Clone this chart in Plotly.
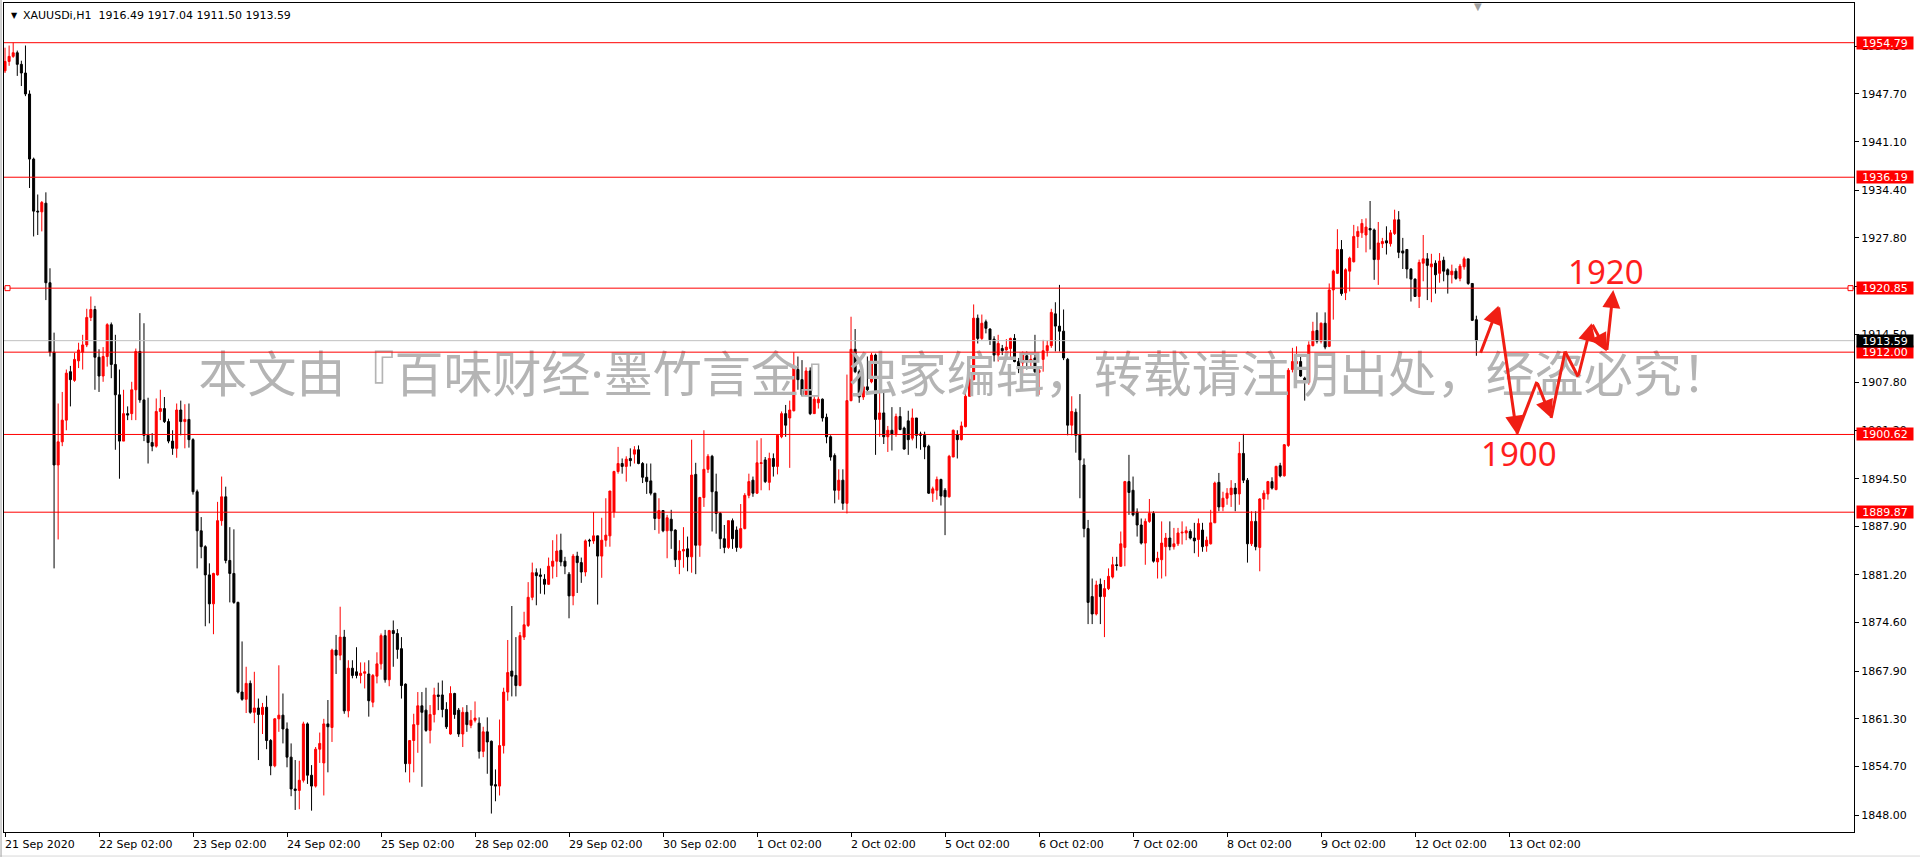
import plotly.graph_objects as go

# ---------------- data (H1 candles, XAUUSDi) ----------------
opens = [
 1950.9,1952.2,1952.9,1953.4,1951.8,1950.6,1947.7,1938.7,1931.5,1931.4,
 1932.6,1921.6,1912.0,1896.4,1899.6,1902.6,1909.3,1908.1,1910.8,1912.0,
 1913.0,1916.8,1917.9,1911.3,1908.7,1911.4,1915.8,1910.3,1906.1,1899.7,
 1903.5,1903.5,1906.8,1912.1,1905.4,1900.5,1899.5,1899.0,1903.8,1904.2,
 1902.4,1899.7,1898.7,1904.0,1902.4,1902.7,1899.9,1892.7,1887.3,1885.1,
 1881.2,1877.2,1881.2,1888.7,1892.0,1883.2,1881.4,1877.4,1865.0,1864.0,
 1866.2,1862.2,1862.8,1861.9,1862.9,1858.3,1854.8,1861.3,1861.8,1859.9,
 1856.0,1851.6,1851.4,1852.8,1860.6,1853.5,1852.0,1857.1,1855.2,1860.6,
 1860.1,1870.8,1870.1,1872.6,1862.4,1868.3,1867.8,1867.3,1867.6,1867.5,
 1863.6,1867.2,1868.9,1872.8,1866.7,1873.5,1873.1,1871.0,1866.1,1855.1,
 1858.3,1860.5,1863.1,1862.5,1859.7,1861.9,1864.6,1864.6,1862.6,1859.2,
 1864.8,1862.5,1859.2,1862.2,1860.4,1861.1,1860.7,1856.8,1859.5,1858.2,
 1852.2,1852.0,1857.6,1865.0,1867.9,1867.3,1865.9,1872.6,1874.2,1878.1,
 1881.5,1881.2,1880.6,1879.9,1882.4,1883.1,1884.6,1883.1,1881.3,1878.3,
 1883.8,1882.9,1881.6,1886.0,1885.9,1886.6,1883.8,1886.0,1886.6,1889.9,
 1895.5,1896.6,1896.2,1897.3,1897.9,1898.5,1896.6,1894.7,1894.2,1892.5,
 1889.0,1890.1,1887.3,1888.9,1887.4,1883.3,1884.5,1884.8,1883.7,1895.1,
 1885.3,1891.9,1895.8,1897.6,1892.7,1889.7,1886.2,1885.0,1888.7,1887.4,
 1885.0,1887.6,1892.2,
 1894.3,1892.5,1896.6,1897.1,1894.0,1897.3,1896.2,1900.3,1903.5,1902.9,
 1903.9,1909.6,1908.2,1906.1,1909.4,1903.5,1905.0,1905.5,1903.0,1900.3,
 1897.7,1892.9,1894.3,1891.1,1905.3,1912.4,1909.3,1905.8,1907.2,1907.9,
 1911.6,1902.7,1903.6,1900.3,1901.2,1900.7,1903.1,1901.5,1902.5,1900.1,
 1902.9,1900.7,1900.5,1899.0,1892.5,1892.9,1894.4,1892.9,1892.0,1897.5,
 1900.6,1899.9,1901.7,1905.9,1908.2,1916.7,1913.9,1916.2,1915.2,1913.8,
 1911.6,1912.5,1912.3,1912.5,1913.9,1910.7,1910.5,1911.5,1910.8,1911.2,
 1909.2,1911.0,1912.2,1912.9,1917.3,1915.6,1914.9,1911.0,1901.9,1903.7,
 1900.6,1896.4,1887.6,1878.2,1875.8,1879.9,1878.2,1879.3,1880.9,1882.6,
 1882.4,1885.0,1894.1,1892.9,1889.9,1888.1,1885.6,1888.6,1889.7,1883.0,
 1883.3,1885.1,1886.3,1885.1,1885.5,1887.0,1887.0,1887.2,1886.3,1886.1,
 1887.4,1885.2,1885.5,1888.4,1894.0,1890.6,1891.8,1892.3,1893.2,1892.4,
 1898.0,1894.3,1885.5,1888.6,1885.0,1891.7,1892.4,1894.1,1893.0,1896.3,
 1894.9,1899.1,1909.6,1910.4,1910.7,1908.4,1907.8,1912.9,1915.0,1913.5,
 1916.0,1912.8,1920.6,1922.9,1926.2,1920.2,1923.2,1924.5,1928.0,1928.5,
 1928.2,1929.1,1928.9,1924.8,1927.0,1927.4,1927.0,1928.4,1930.3,1926.0,
 1926.2,1923.5,1922.1,1919.7,1924.3,1924.9,1923.8,1924.3,1922.9,1924.7,
 1923.4,1922.7,1923.2,1922.2,1923.8,1924.9,1921.5,1916.49,
]
highs = [
 1954.1,1954.4,1954.8,1953.7,1952.3,1954.4,1948.2,1938.9,1933.8,1932.9,
 1934.1,1923.6,1914.7,1904.9,1906.5,1909.6,1910.1,1911.9,1913.3,1914.4,
 1918.0,1919.7,1918.4,1912.4,1912.7,1916.0,1916.1,1914.4,1909.6,1906.8,
 1904.5,1907.9,1912.5,1917.4,1916.0,1905.7,1900.8,1905.6,1906.8,1905.8,
 1902.8,1901.2,1904.9,1905.3,1904.8,1904.9,1900.1,1893.0,1889.2,1885.3,
 1882.8,1881.5,1891.3,1894.8,1893.4,1887.8,1887.5,1877.5,1872.0,1868.5,
 1866.6,1867.8,1864.1,1863.5,1864.5,1858.5,1861.4,1868.7,1864.8,1860.8,
 1857.9,1855.6,1855.5,1860.9,1860.8,1854.9,1857.4,1859.4,1861.3,1863.9,
 1871.0,1872.9,1876.8,1873.6,1869.4,1869.4,1871.2,1869.1,1869.1,1869.4,
 1867.5,1870.5,1873.1,1873.6,1873.6,1874.9,1873.7,1872.6,1866.2,1858.3,
 1862.0,1865.0,1865.0,1865.6,1863.2,1865.6,1866.3,1866.6,1863.6,1865.8,
 1864.9,1862.8,1862.9,1863.2,1862.5,1863.7,1861.5,1860.2,1861.5,1858.3,
 1854.3,1861.2,1865.6,1872.2,1876.9,1872.6,1873.3,1876.1,1880.2,1882.9,
 1882.1,1882.1,1881.3,1883.6,1886.0,1886.8,1886.9,1883.7,1881.6,1884.1,
 1884.4,1883.6,1886.1,1886.2,1889.9,1886.6,1889.1,1891.8,1892.8,1895.6,
 1898.9,1897.3,1897.6,1898.7,1899.0,1899.1,1896.8,1896.6,1896.6,1892.5,
 1891.8,1890.1,1889.5,1890.2,1887.5,1886.0,1887.8,1886.5,1899.9,1896.7,
 1892.0,1901.2,1897.9,1897.8,1895.2,1889.9,1888.1,1888.7,1889.0,1887.9,
 1891.0,1892.5,1895.2,
 1894.8,1899.8,1900.1,1897.5,1898.1,1898.0,1900.5,1903.8,1904.7,1905.3,
 1912.0,1911.4,1910.9,1909.9,1909.9,1905.9,1905.9,1905.6,1903.5,1900.5,
 1898.0,1895.8,1895.8,1908.9,1916.9,1915.2,1909.6,1907.7,1911.4,1911.9,
 1911.8,1907.2,1906.6,1901.8,1904.4,1903.5,1904.4,1901.7,1903.9,1904.2,
 1902.9,1901.0,1901.0,1899.2,1893.4,1894.8,1894.5,1893.2,1897.8,1901.3,
 1901.2,1902.4,1906.8,1908.9,1918.6,1917.2,1917.2,1916.5,1915.3,1914.2,
 1914.4,1913.0,1913.8,1914.0,1914.5,1911.2,1912.1,1912.1,1911.9,1914.4,
 1910.0,1913.7,1913.6,1918.0,1918.9,1921.3,1917.9,1911.2,1905.9,1904.2,
 1906.2,1897.3,1888.8,1880.7,1880.4,1880.7,1880.5,1882.1,1883.7,1883.7,
 1887.2,1894.2,1897.8,1894.8,1890.4,1889.0,1889.0,1891.7,1890.0,1884.4,
 1888.6,1887.0,1888.6,1887.7,1887.7,1888.6,1887.9,1887.5,1888.4,1889.0,
 1888.4,1886.5,1890.2,1894.1,1895.3,1892.7,1893.2,1894.3,1893.9,1899.6,
 1900.7,1894.6,1890.0,1890.0,1891.8,1892.9,1894.2,1894.7,1896.3,1896.7,
 1899.3,1909.8,1912.6,1912.8,1911.4,1908.6,1913.5,1916.2,1917.5,1916.1,
 1917.5,1921.5,1923.4,1929.0,1927.5,1923.6,1925.2,1929.6,1929.4,1930.4,
 1930.5,1932.9,1929.1,1930.0,1927.8,1929.4,1928.9,1931.7,1931.5,1927.8,
 1926.2,1923.6,1922.2,1924.8,1928.2,1925.7,1925.6,1924.7,1925.7,1925.2,
 1923.6,1924.1,1923.6,1924.2,1925.2,1924.9,1921.5,1917.04,
]
lows = [
 1950.6,1951.6,1952.7,1950.2,1948.8,1947.4,1934.7,1928.0,1928.2,1928.7,
 1919.2,1911.4,1882.1,1886.1,1899.0,1901.2,1904.5,1907.9,1909.8,1909.6,
 1912.7,1916.3,1906.8,1906.5,1907.9,1910.0,1908.4,1898.5,1894.5,1899.7,
 1902.6,1902.6,1902.6,1905.0,1899.7,1896.6,1898.3,1898.8,1902.6,1902.2,
 1899.4,1897.8,1897.4,1900.5,1898.7,1898.8,1892.3,1882.1,1883.5,1874.1,
 1874.5,1873.0,1881.1,1888.0,1882.8,1877.4,1877.2,1864.8,1863.8,1862.1,
 1862.0,1860.7,1855.6,1859.2,1857.1,1853.5,1854.6,1859.5,1857.9,1854.6,
 1850.6,1848.7,1848.8,1852.5,1852.3,1848.6,1851.8,1855.2,1850.7,1853.9,
 1858.1,1867.5,1869.4,1862.0,1861.5,1866.9,1866.9,1866.2,1865.5,1861.6,
 1862.9,1866.2,1868.1,1866.3,1865.8,1868.5,1869.6,1864.1,1853.9,1852.5,
 1853.9,1856.6,1851.9,1859.5,1857.9,1860.8,1862.5,1861.5,1859.9,1859.1,
 1861.3,1858.8,1857.4,1859.5,1860.0,1860.8,1855.8,1856.0,1853.7,1848.2,
 1849.9,1850.7,1856.5,1863.8,1864.4,1864.4,1865.8,1872.2,1874.0,1877.7,
 1877.0,1878.6,1878.5,1879.8,1880.7,1880.9,1882.4,1881.3,1875.2,1877.0,
 1878.7,1880.1,1881.0,1885.1,1885.5,1877.1,1880.8,1885.1,1885.1,1889.1,
 1895.2,1895.2,1894.1,1896.2,1896.6,1896.5,1893.9,1892.4,1892.2,1887.4,
 1886.9,1887.1,1883.5,1884.8,1882.3,1881.3,1882.2,1881.7,1881.5,1881.3,
 1883.7,1890.6,1895.3,1887.2,1886.9,1884.8,1884.2,1884.8,1884.8,1884.4,
 1884.8,1887.5,1891.8,
 1892.0,1892.4,1892.9,1893.9,1892.9,1894.8,1895.1,1900.1,1900.3,1896.0,
 1903.8,1906.8,1905.9,1905.9,1903.3,1903.5,1904.2,1902.4,1899.4,1897.0,
 1891.1,1891.6,1890.2,1889.7,1905.2,1909.1,1905.0,1905.4,1906.3,1907.7,
 1897.8,1900.3,1899.3,1898.2,1898.4,1900.3,1901.2,1898.5,1897.8,1899.8,
 1898.7,1898.5,1897.2,1892.4,1891.3,1891.6,1890.8,1886.7,1891.9,1897.5,
 1897.3,1899.8,1901.6,1905.9,1908.1,1913.2,1913.7,1914.6,1913.0,1910.7,
 1910.7,1911.6,1911.2,1911.2,1910.6,1909.1,1909.1,1909.6,1909.8,1909.1,
 1906.1,1909.3,1911.4,1912.6,1912.1,1912.1,1910.9,1900.5,1900.5,1898.1,
 1891.8,1886.4,1874.4,1874.4,1875.6,1874.4,1872.6,1879.1,1880.7,1881.8,
 1882.3,1882.4,1889.5,1889.3,1886.5,1885.4,1882.6,1888.4,1882.9,1880.7,
 1880.7,1881.0,1884.6,1884.7,1885.2,1885.4,1886.0,1886.1,1884.2,1883.7,
 1884.4,1884.4,1885.4,1888.4,1890.0,1890.0,1890.9,1890.6,1890.0,1890.9,
 1893.9,1882.9,1885.2,1884.6,1881.7,1890.2,1891.6,1893.0,1892.9,1894.7,
 1894.8,1898.9,1909.2,1909.3,1908.6,1905.3,1907.5,1912.8,1913.2,1913.2,
 1912.4,1912.7,1916.5,1922.8,1919.8,1919.2,1920.4,1924.4,1926.4,1927.8,
 1925.8,1926.2,1922.0,1921.3,1926.4,1925.5,1926.6,1928.2,1925.0,1923.5,
 1922.2,1919.0,1919.7,1918.1,1921.8,1919.2,1918.9,1920.1,1921.6,1921.8,
 1920.1,1921.5,1922.0,1921.8,1923.4,1921.3,1916.3,1911.50,
]
closes = [
 1952.2,1952.9,1953.4,1951.8,1950.6,1947.7,1938.7,1931.5,1931.4,1932.7,
 1921.6,1912.0,1896.4,1899.6,1902.6,1909.1,1908.2,1911.0,1912.3,1913.0,
 1916.8,1917.9,1911.3,1908.7,1911.4,1915.8,1910.3,1906.1,1899.7,1903.5,
 1903.3,1906.8,1912.1,1905.4,1900.5,1899.5,1899.0,1903.8,1904.2,1902.4,
 1899.7,1898.7,1904.0,1902.4,1902.7,1899.9,1892.7,1887.3,1885.1,1881.2,
 1877.2,1881.4,1888.7,1892.0,1883.2,1881.4,1877.4,1865.0,1864.0,1866.2,
 1862.2,1862.8,1861.9,1862.9,1858.3,1854.8,1861.3,1861.8,1859.9,1856.0,
 1851.6,1851.4,1852.8,1860.6,1853.5,1852.0,1857.1,1857.9,1860.6,1860.2,
 1870.8,1870.1,1872.6,1862.4,1868.3,1867.3,1867.3,1867.6,1867.8,1863.8,
 1867.3,1868.9,1872.8,1866.7,1873.5,1873.1,1870.9,1865.9,1855.1,1858.3,
 1860.5,1863.1,1862.2,1859.7,1861.9,1864.6,1864.4,1862.6,1860.2,1864.8,
 1861.9,1859.2,1862.2,1860.5,1861.1,1861.4,1856.8,1859.5,1858.1,1852.1,
 1852.0,1857.6,1865.0,1867.7,1867.2,1865.9,1872.8,1874.3,1878.1,1881.5,
 1881.1,1881.0,1879.9,1882.4,1883.1,1884.5,1883.0,1882.4,1878.3,1883.8,
 1882.9,1881.6,1885.9,1885.9,1886.6,1883.8,1886.0,1886.7,1892.8,1895.5,
 1896.6,1896.2,1897.2,1897.0,1898.5,1896.6,1894.7,1894.1,1892.5,1889.0,
 1890.1,1887.3,1889.1,1887.3,1883.3,1884.5,1884.7,1883.7,1895.0,1885.3,
 1891.9,1895.8,1897.6,1892.7,1889.7,1886.2,1885.0,1888.7,1886.2,1885.0,
 1887.6,1892.2,1894.1,
 1892.5,1896.7,1896.7,1894.1,1897.3,1896.2,1900.5,1903.5,1901.9,1904.0,
 1909.8,1908.2,1906.1,1909.4,1903.5,1905.5,1905.5,1902.9,1900.3,1897.5,
 1892.9,1894.3,1891.1,1905.3,1912.4,1909.3,1905.8,1907.2,1906.8,1911.6,
 1902.7,1903.6,1900.3,1901.2,1900.7,1903.1,1901.3,1898.6,1899.9,1902.9,
 1900.5,1900.5,1898.9,1892.5,1893.1,1894.4,1892.1,1892.0,1897.6,1901.2,
 1899.9,1901.8,1905.9,1908.2,1916.7,1913.9,1916.0,1915.3,1913.7,1911.6,
 1913.2,1912.2,1912.7,1913.9,1910.7,1909.7,1911.8,1910.7,1911.0,1909.3,
 1909.5,1912.2,1912.9,1917.5,1915.6,1914.9,1911.2,1901.9,1903.8,1900.5,
 1897.1,1887.6,1877.4,1875.8,1879.8,1878.2,1879.3,1881.0,1882.6,1882.5,
 1885.5,1894.1,1892.6,1889.5,1888.1,1885.6,1888.6,1889.7,1883.1,1883.5,
 1885.6,1886.3,1885.1,1885.5,1887.0,1887.1,1887.3,1886.3,1885.9,1888.3,
 1885.1,1886.0,1888.4,1893.9,1890.6,1891.8,1892.5,1893.2,1892.4,1898.0,
 1894.3,1885.5,1888.6,1885.1,1891.7,1892.5,1894.1,1893.2,1896.2,1894.9,
 1899.2,1909.5,1910.7,1910.7,1908.7,1907.8,1913.0,1914.9,1913.5,1916.0,
 1912.7,1920.6,1923.2,1926.2,1920.1,1923.4,1925.0,1928.0,1928.7,1929.8,
 1929.3,1928.9,1924.8,1927.1,1927.3,1927.1,1928.5,1930.3,1925.8,1925.7,
 1923.5,1922.1,1919.7,1924.4,1924.9,1924.0,1924.2,1922.7,1924.6,1923.2,
 1922.7,1923.2,1922.2,1923.9,1924.9,1921.5,1916.4,1913.59,
]

n = min(len(opens), len(highs), len(lows), len(closes))
bars = list(range(n))

day_ticks = [0, 23, 46, 69, 92, 115, 138, 161, 184, 207, 230, 253, 276, 299, 322, 345, 368]
day_labels = ["21 Sep 2020", "22 Sep 02:00", "23 Sep 02:00", "24 Sep 02:00", "25 Sep 02:00",
              "28 Sep 02:00", "29 Sep 02:00", "30 Sep 02:00", "1 Oct 02:00", "2 Oct 02:00",
              "5 Oct 02:00", "6 Oct 02:00", "7 Oct 02:00", "8 Oct 02:00", "9 Oct 02:00",
              "12 Oct 02:00", "13 Oct 02:00"]

price_ticks = [1848.00, 1854.70, 1861.30, 1867.90, 1874.60, 1881.20, 1887.90, 1894.50,
               1901.20, 1907.80, 1914.50, 1921.10, 1927.80, 1934.40, 1941.10, 1947.70, 1954.30]

levels = [1954.79, 1936.19, 1920.85, 1912.00, 1900.62, 1889.87]
last_price = 1913.59

title_text = "XAUUSDi,H1  1916.49 1917.04 1911.50 1913.59"
watermark = "本文由『百味财经·墨竹言金』独家编辑，转载请注明出处，经盗必究！"

# hand-drawn forecast path (bar index, price) and which segments end in an arrow head
path_bars = [360.9, 365.4, 369.9, 374.8, 378.3, 381.7, 384.9, 388.2, 391.9, 393.5]
path_prices = [1911.7, 1918.4, 1900.7, 1907.9, 1902.9, 1912.1, 1908.6, 1916.0, 1912.1, 1920.6]
path_heads = [True, True, False, True, False, False, True, True, True]
target_labels = [("1920", 391.6, 1923.2), ("1900", 370.5, 1898.0)]

RED = "#FF0000"
AXFONT = dict(family="DejaVu Sans", size=11, color="black")

fig = go.Figure()

# watermark (below candles)
fig.add_trace(go.Scatter(
    x=[234.8], y=[1908.15], mode="text", text=[watermark],
    textfont=dict(family="Noto Sans, Noto Sans CJK SC", size=49, color="#B4B4B4"),
    textposition="middle center", hoverinfo="skip", showlegend=False))

fig.add_trace(go.Candlestick(
    x=bars, open=opens[:n], high=highs[:n], low=lows[:n], close=closes[:n],
    increasing=dict(line=dict(color=RED, width=1), fillcolor=RED),
    decreasing=dict(line=dict(color="#000000", width=1), fillcolor="#000000"),
    whiskerwidth=0, showlegend=False, hoverinfo="skip"))

shapes = []
# last bid line
shapes.append(dict(type="line", xref="paper", x0=0, x1=1, yref="y", y0=last_price, y1=last_price,
                   line=dict(color="#C0C0C0", width=1), layer="above"))
for lv in levels:
    shapes.append(dict(type="line", xref="paper", x0=0, x1=1, yref="y", y0=lv, y1=lv,
                       line=dict(color=RED, width=1), layer="above"))
# selection handles on the 1920.85 line
for xa, a, b in [(0, 1, 6), (1, -6, -1)]:
    shapes.append(dict(type="rect", xref="paper", xsizemode="pixel", xanchor=xa, x0=a, x1=b,
                       yref="y", ysizemode="pixel", yanchor=levels[2], y0=-2.5, y1=2.5,
                       line=dict(color=RED, width=1), fillcolor="white", layer="above"))
# window frame lines (bottom edge and left edge)
shapes.append(dict(type="line", xref="paper", yref="paper", x0=-0.01, x1=1.1, y0=-0.029, y1=-0.029,
                   line=dict(color="#D8D8D8", width=1)))
shapes.append(dict(type="line", xref="paper", yref="paper", x0=-0.0016, x1=-0.0016, y0=-0.03, y1=1.01,
                   line=dict(color="#A0A0A0", width=1)))

annotations = []
# forecast path
for k in range(len(path_bars) - 1):
    x0, y0 = path_bars[k], path_prices[k]
    x1, y1 = path_bars[k + 1], path_prices[k + 1]
    if path_heads[k]:
        annotations.append(dict(x=x1, y=y1, ax=x0, ay=y0, xref="x", yref="y", axref="x", ayref="y",
                                text="", showarrow=True, arrowhead=2, arrowsize=1.2, arrowwidth=3,
                                arrowcolor="#F01E14", standoff=0, startstandoff=0))
    else:
        shapes.append(dict(type="line", xref="x", yref="y", x0=x0, y0=y0, x1=x1, y1=y1,
                           line=dict(color="#F01E14", width=3), layer="above"))
for txt, bx, py in target_labels:
    annotations.append(dict(x=bx, y=py, xref="x", yref="y", text=txt, showarrow=False,
                            font=dict(family="Noto Sans", size=33, color="#FF1E1E"),
                            xanchor="center", yanchor="middle"))

# price labels on right scale
for lv in levels:
    annotations.append(dict(x=1, xref="paper", y=lv, yref="y", xanchor="left", yanchor="middle",
                            xshift=2, text=f"{lv:.2f}", showarrow=False, bgcolor=RED,
                            font=dict(family="DejaVu Sans", size=11, color="white"),
                            width=56, height=12, borderpad=0, align="center"))
annotations.append(dict(x=1, xref="paper", y=last_price, yref="y", xanchor="left", yanchor="middle",
                        xshift=2, text=f"{last_price:.2f}", showarrow=False, bgcolor="black",
                        font=dict(family="DejaVu Sans", size=11, color="white"),
                        width=56, height=12, borderpad=0, align="center"))

# time labels
for t, lab in zip(day_ticks, day_labels):
    annotations.append(dict(x=t, xref="x", y=0, yref="paper", xanchor="left", yanchor="middle",
                            yshift=-12, xshift=-2, text=lab, showarrow=False, font=AXFONT))

# chart title
annotations.append(dict(x=0, xref="paper", y=1, yref="paper", xanchor="left", yanchor="middle",
                        xshift=17, yshift=-12, text=title_text, showarrow=False, font=AXFONT))
annotations.append(dict(x=0, xref="paper", y=1, yref="paper", xanchor="center", yanchor="middle",
                        xshift=10, yshift=-12, text="▼", showarrow=False,
                        font=dict(family="DejaVu Sans", size=8, color="black")))
# chart shift marker
annotations.append(dict(x=360.4, xref="x", y=1, yref="paper", xanchor="center", yanchor="middle",
                        yshift=-3, text="▼", showarrow=False,
                        font=dict(family="DejaVu Sans", size=10, color="#A0A0A0")))

fig.update_layout(
    width=1920, height=858,
    margin=dict(l=4, r=66, t=3, b=26),
    paper_bgcolor="white", plot_bgcolor="white", showlegend=False,
    boxgap=0.3, boxgroupgap=0.3,
    xaxis=dict(range=[-0.25, 452.4], rangeslider=dict(visible=False), showgrid=False, zeroline=False,
               showline=True, linecolor="black", linewidth=1, mirror=True,
               ticks="outside", ticklen=4, tickcolor="black", tickvals=day_ticks,
               showticklabels=False, fixedrange=True),
    yaxis=dict(side="right", range=[1845.65, 1960.28], showgrid=False, zeroline=False,
               showline=True, linecolor="black", linewidth=1, mirror=True,
               ticks="outside", ticklen=4, tickcolor="black",
               tickvals=price_ticks, ticktext=[f"{v:.2f}" for v in price_ticks],
               tickfont=AXFONT, fixedrange=True),
    shapes=shapes, annotations=annotations,
)

fig.write_html("out.html", config={"displayModeBar": False},
               post_script="document.body.style.margin='0px';document.body.style.overflow='hidden';")
